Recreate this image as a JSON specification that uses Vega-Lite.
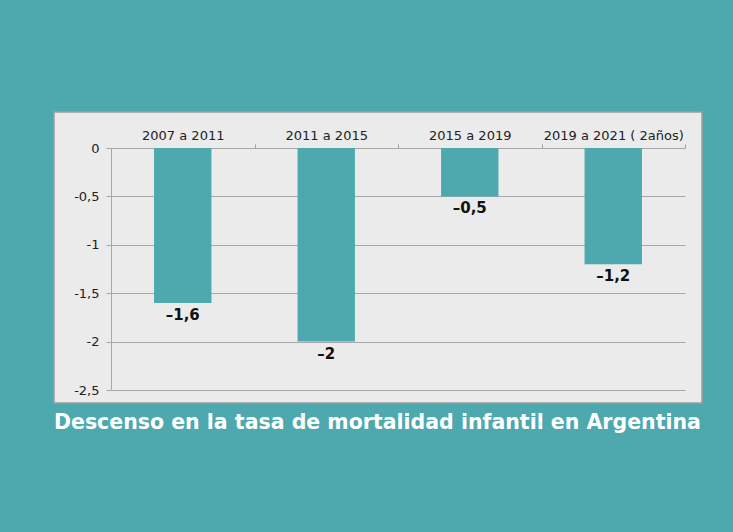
{
  "$schema": "https://vega.github.io/schema/vega-lite/v6.json",
  "width": 648,
  "height": 291,
  "autosize": {"type": "none"},
  "padding": {"left": 54, "top": 112, "right": 31, "bottom": 129},
  "background": "#4DA9AE",
  "config": {
    "font": "DejaVu Sans",
    "view": {"fill": "#EBEBEB", "stroke": "#9E9E9E", "strokeWidth": 1.5}
  },
  "data": {
    "values": [
      {"periodo": "2007 a 2011", "descenso": -1.6, "etiqueta": "–1,6"},
      {"periodo": "2011 a 2015", "descenso": -2.0, "etiqueta": "–2"},
      {"periodo": "2015 a 2019", "descenso": -0.5, "etiqueta": "–0,5"},
      {"periodo": "2019 a 2021 ( 2años)", "descenso": -1.2, "etiqueta": "–1,2"}
    ]
  },
  "title": {
    "text": "Descenso en la tasa de mortalidad infantil en Argentina",
    "orient": "bottom",
    "anchor": "start",
    "color": "#FFFFFF",
    "fontSize": 20.5,
    "fontWeight": "bold",
    "font": "DejaVu Sans",
    "offset": 10
  },
  "encoding": {
    "x": {
      "field": "periodo",
      "type": "nominal",
      "sort": null,
      "scale": {"range": [57, 631], "paddingInner": 0.6, "paddingOuter": 0.3},
      "axis": {
        "orient": "top",
        "offset": -36,
        "title": null,
        "labelAngle": 0,
        "labelFontSize": 13,
        "labelColor": "#222222",
        "domain": false,
        "ticks": true,
        "tickOffset": 71.75,
        "labelOffset": -71.75,
        "tickColor": "#A0A0A0",
        "tickSize": 4,
        "labelPadding": 2,
        "grid": false
      }
    },
    "y": {
      "field": "descenso",
      "type": "quantitative",
      "scale": {"domain": [-2.5, 0], "range": [278, 36], "nice": false, "zero": false},
      "axis": {
        "orient": "left",
        "offset": -57,
        "title": null,
        "values": [0, -0.5, -1, -1.5, -2, -2.5],
        "labelExpr": "replace(toString(datum.value), '.', ',')",
        "grid": true,
        "gridColor": "#A8A8A8",
        "domainColor": "#A8A8A8",
        "tickColor": "#A8A8A8",
        "tickSize": 5,
        "labelFontSize": 13,
        "labelColor": "#222222",
        "labelPadding": 7
      }
    }
  },
  "layer": [
    {"mark": {"type": "bar", "color": "#4DA9AE"}},
    {
      "mark": {"type": "text", "baseline": "top", "dy": 5, "fontWeight": "bold", "fontSize": 15, "color": "#111111"},
      "encoding": {"text": {"field": "etiqueta"}}
    }
  ]
}
